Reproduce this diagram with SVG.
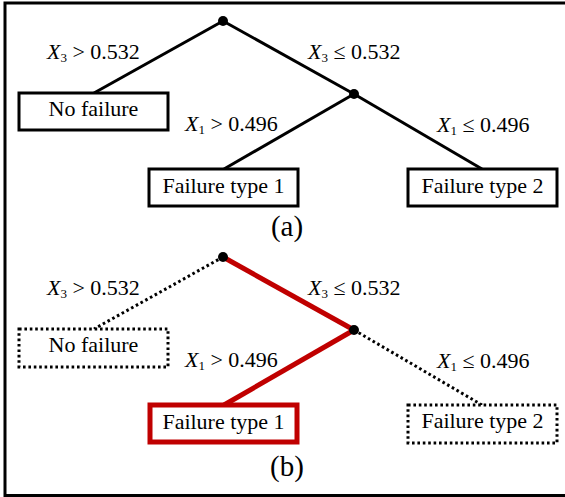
<svg xmlns="http://www.w3.org/2000/svg" width="565" height="497" viewBox="0 0 565 497">
<style>
text{font-family:'Liberation Serif','Times New Roman',serif;font-size:22px;fill:#000}
.c{text-anchor:middle}
.i{font-style:italic}
.s{font-size:13px}
.cap{font-size:29px}
.box{fill:#fff;stroke:#000;stroke-width:3}
.dot{fill:#fff;stroke:#000;stroke-width:3;stroke-dasharray:2.6 2.8}
.rbox{fill:#fff;stroke:#C00000;stroke-width:5}
.ln{stroke:#000;stroke-width:3;fill:none}
.dl{stroke:#000;stroke-width:3;fill:none;stroke-dasharray:2.6 2.8}
.rl{stroke:#C00000;stroke-width:5;fill:none}
</style>
<rect width="565" height="497" fill="#fff"/>
<path d="M565,3 H5 V495.5 H565" fill="none" stroke="#000" stroke-width="3"/>
<g id="connectors">
<line class="ln" x1="223" y1="21" x2="94" y2="93"/>
<line class="ln" x1="223" y1="21" x2="354" y2="94"/>
<line class="ln" x1="354" y1="94" x2="224" y2="169"/>
<line class="ln" x1="354" y1="94" x2="482" y2="169"/>
<line class="dl" x1="223" y1="257" x2="94" y2="329"/>
<line class="rl" x1="223" y1="257" x2="354" y2="330"/>
<line class="rl" x1="354" y1="330" x2="224" y2="405"/>
<line class="dl" x1="354" y1="330" x2="482" y2="405"/>
</g>
<g id="labels">
<text x="47" y="59"><tspan class="i">X</tspan><tspan class="s" dy="3">3</tspan><tspan dy="-3"> &gt; 0.532</tspan></text>
<text x="308" y="59"><tspan class="i">X</tspan><tspan class="s" dy="3">3</tspan><tspan dy="-3"> ≤ 0.532</tspan></text>
<text x="185" y="131"><tspan class="i">X</tspan><tspan class="s" dy="3">1</tspan><tspan dy="-3"> &gt; 0.496</tspan></text>
<text x="437" y="132"><tspan class="i">X</tspan><tspan class="s" dy="3">1</tspan><tspan dy="-3"> ≤ 0.496</tspan></text>
<text x="47" y="295"><tspan class="i">X</tspan><tspan class="s" dy="3">3</tspan><tspan dy="-3"> &gt; 0.532</tspan></text>
<text x="308" y="295"><tspan class="i">X</tspan><tspan class="s" dy="3">3</tspan><tspan dy="-3"> ≤ 0.532</tspan></text>
<text x="185" y="367"><tspan class="i">X</tspan><tspan class="s" dy="3">1</tspan><tspan dy="-3"> &gt; 0.496</tspan></text>
<text x="437" y="368"><tspan class="i">X</tspan><tspan class="s" dy="3">1</tspan><tspan dy="-3"> ≤ 0.496</tspan></text>
<text class="c cap" x="287" y="236">(a)</text>
<text class="c cap" x="287" y="476">(b)</text>
</g>
<g id="a-root"><circle cx="223" cy="21" r="5"/></g>
<g id="a-split"><circle cx="354" cy="94" r="5"/></g>
<g id="a-nofailure"><rect class="box" x="19" y="93" width="149" height="37"/><text class="c" x="93.5" y="116">No failure</text></g>
<g id="a-type1"><rect class="box" x="149" y="169" width="149" height="37"/><text class="c" x="223.5" y="193">Failure type 1</text></g>
<g id="a-type2"><rect class="box" x="408" y="169" width="149" height="37"/><text class="c" x="482.5" y="193">Failure type 2</text></g>
<g id="b-root"><circle cx="223" cy="257" r="5"/></g>
<g id="b-split"><circle cx="354" cy="330" r="5"/></g>
<g id="b-nofailure"><rect class="dot" x="19" y="329" width="149" height="38"/><text class="c" x="93.5" y="352">No failure</text></g>
<g id="b-type1"><rect class="rbox" x="150" y="405" width="147" height="37"/><text class="c" x="223.5" y="429">Failure type 1</text></g>
<g id="b-type2"><rect class="dot" x="408" y="405" width="149" height="38"/><text class="c" x="482.5" y="428">Failure type 2</text></g>
</svg>
